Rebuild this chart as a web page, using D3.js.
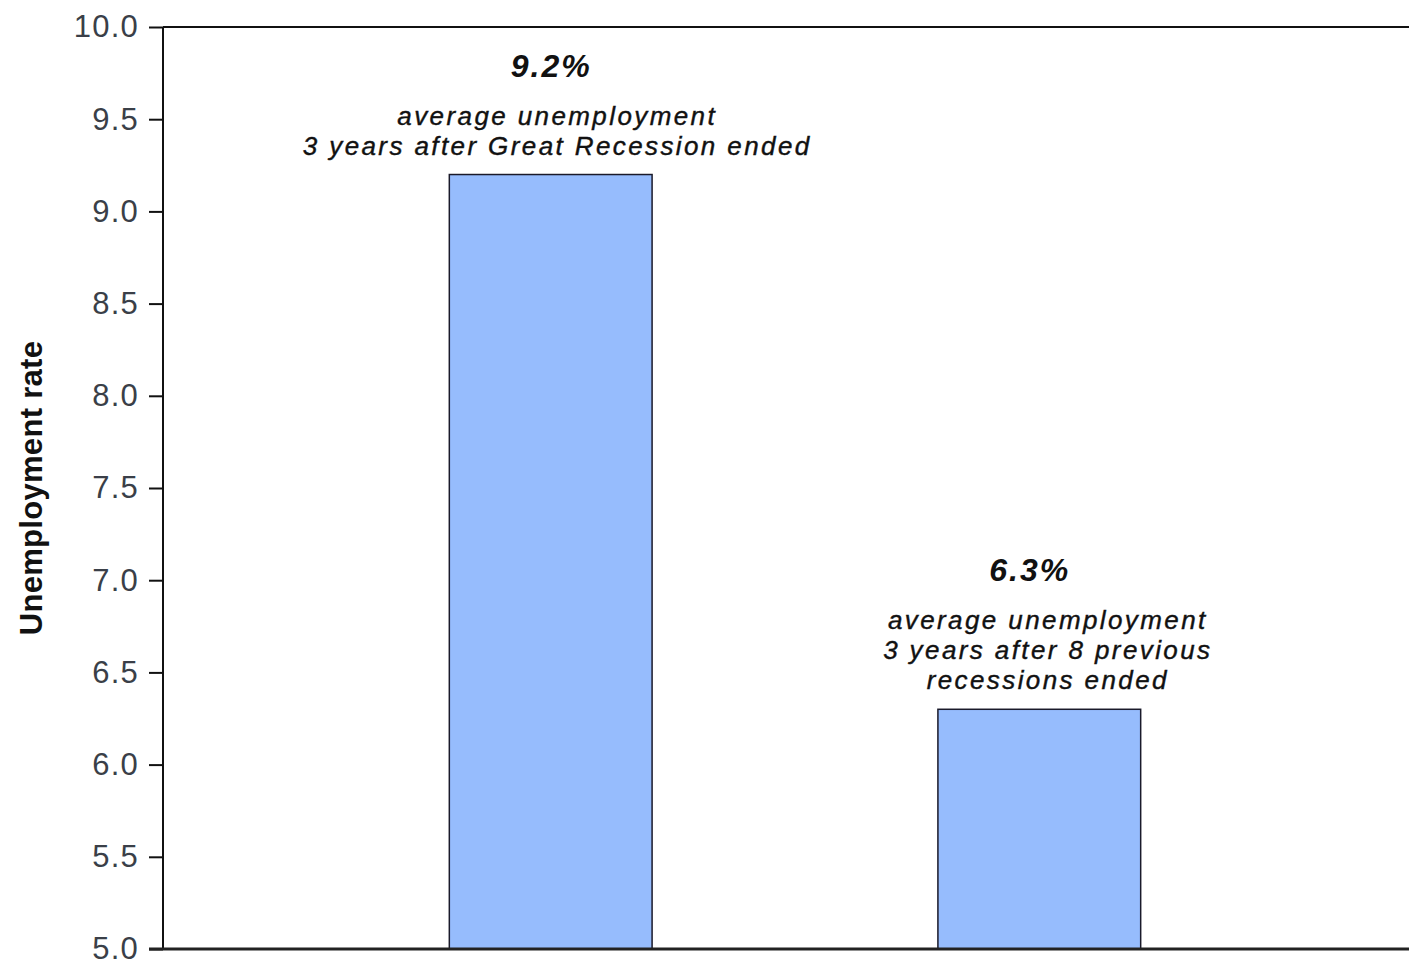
<!DOCTYPE html>
<html>
<head>
<meta charset="utf-8">
<script src="https://cdn.jsdelivr.net/npm/d3@7"></script>
<style>
  body { margin: 0; background: #fff; }
  text { font-family: "Liberation Sans", Arial, sans-serif; }
</style>
</head>
<body>
<div id="viz"></div>
<script>
/* ===== Data ===== */
const categories = ['great', 'previous'];
const values = [9.2, 6.3];
const valueLabels = ['9.2%', '6.3%'];
const noteLines = [
  ['average unemployment', '3 years after Great Recession ended'],
  ['average unemployment', '3 years after 8 previous', 'recessions ended']
];
const yTicks = [5.0, 5.5, 6.0, 6.5, 7.0, 7.5, 8.0, 8.5, 9.0, 9.5, 10.0];

/* ===== Dimensions ===== */
const width = 1409;
const height = 963;
const margin = { top: 27, right: -17, bottom: 14, left: 163 };
const boundedWidth = width - margin.left - margin.right;
const boundedHeight = height - margin.top - margin.bottom;

const svg = d3.select('#viz')
  .append('svg')
  .attr('width', width)
  .attr('height', height);

const viz = svg.append('g')
  .attr('transform', `translate(${margin.left}, ${margin.top})`);

/* ===== Scales ===== */
const xScale = d3.scaleBand()
  .domain(categories)
  .range([0, boundedWidth])
  .paddingInner(0.585)
  .paddingOuter(0.585);

const yScale = d3.scaleLinear()
  .domain([5, 10])
  .range([boundedHeight, 0]);

/* ===== Frame ===== */
viz.append('line')
  .attr('x1', 0).attr('x2', boundedWidth)
  .attr('y1', 0).attr('y2', 0)
  .attr('stroke', '#111').attr('stroke-width', 2);

/* ===== Bars ===== */
viz.selectAll('.bar')
  .data(values)
  .enter()
  .append('rect')
  .attr('class', 'bar')
  .attr('x', (d, i) => xScale(categories[i]) + 0.5)
  .attr('y', d => yScale(d))
  .attr('width', xScale.bandwidth())
  .attr('height', d => yScale(5) - yScale(d))
  .attr('fill', '#96bcfd')
  .attr('stroke', '#1a1a2a')
  .attr('stroke-width', 1.5);

/* ===== Annotations ===== */
const noteShift = [7, 9];
const pctShift = [1, -9];
values.forEach(function (v, i) {
  const cx = xScale(categories[i]) + xScale.bandwidth() / 2;
  const top = yScale(v);
  const lines = noteLines[i];
  const lastBase = top - 20;
  const firstBase = lastBase - (lines.length - 1) * 30;

  lines.forEach(function (line, j) {
    viz.append('text')
      .attr('x', cx + noteShift[i])
      .attr('y', firstBase + j * 30)
      .attr('text-anchor', 'middle')
      .attr('font-size', 26)
      .attr('font-style', 'italic')
      .attr('letter-spacing', 2.4)
      .attr('fill', '#111')
      .attr('stroke', '#111')
      .attr('stroke-width', 0.4)
      .text(line);
  });

  viz.append('text')
    .attr('x', cx + pctShift[i])
    .attr('y', firstBase - 48)
    .attr('text-anchor', 'middle')
    .attr('font-size', 32)
    .attr('font-style', 'italic')
    .attr('font-weight', 'bold')
    .attr('letter-spacing', 2)
    .attr('fill', '#111')
    .text(valueLabels[i]);
});

/* ===== Axes ===== */
const yAxis = d3.axisLeft(yScale)
  .tickValues(yTicks)
  .tickFormat(d3.format('.1f'))
  .tickSize(14)
  .tickPadding(10);

const yAxisGroup = viz.append('g')
  .call(yAxis);
yAxisGroup.select('.domain')
  .attr('stroke', '#111')
  .attr('stroke-width', 2)
  .attr('d', `M0,${boundedHeight}V0`);
yAxisGroup.selectAll('.tick line')
  .attr('stroke', '#111')
  .attr('stroke-width', 2);
yAxisGroup.selectAll('.tick text')
  .attr('font-size', 31)
  .attr('letter-spacing', 1.2)
  .attr('fill', '#3a3f48')
  .style('font-family', '"Liberation Sans", Arial, sans-serif');

// bottom axis line
viz.append('line')
  .attr('x1', -14).attr('x2', boundedWidth)
  .attr('y1', boundedHeight).attr('y2', boundedHeight)
  .attr('stroke', '#222').attr('stroke-width', 3);

// y axis title
svg.append('text')
  .attr('transform', `translate(42, ${margin.top + boundedHeight / 2}) rotate(-90)`)
  .attr('text-anchor', 'middle')
  .attr('font-size', 31)
  .attr('font-weight', 'bold')
  .attr('letter-spacing', 0.3)
  .attr('fill', '#111')
  .text('Unemployment rate');
</script>
</body>
</html>
